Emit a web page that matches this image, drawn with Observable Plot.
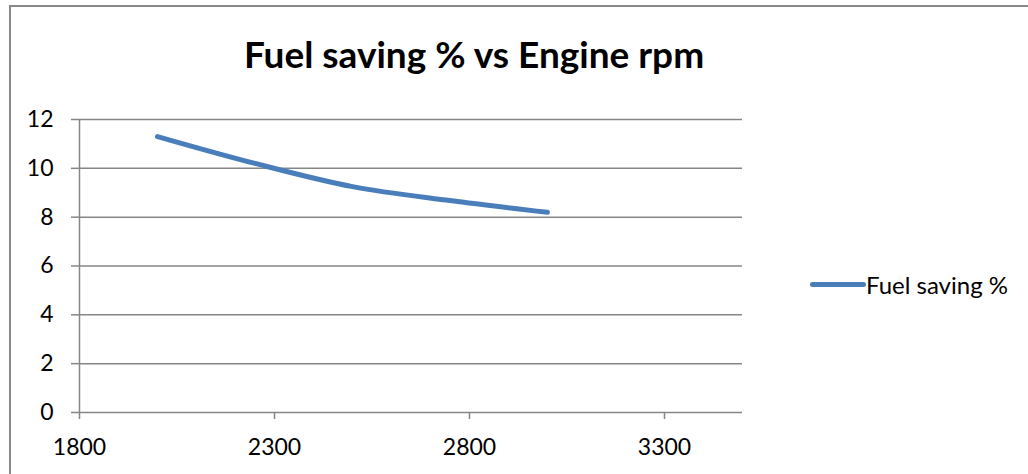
<!DOCTYPE html>
<html>
<head>
<meta charset="utf-8">
<script src="https://cdn.jsdelivr.net/npm/d3@7"></script>
<script src="https://cdn.jsdelivr.net/npm/@observablehq/plot@0.6"></script>
<style>
  html, body { margin: 0; padding: 0; background: #fff; overflow: hidden; }
  #chart { position: relative; width: 1028px; height: 474px; overflow: hidden; background: #fff; }
  #frame { position: absolute; left: 9px; top: 5px; width: 1019px; height: 469px; border-left: 2px solid #898989; border-top: 2px solid #898989; box-sizing: border-box; }
  #title { position: relative; height: 100px; width: 1028px; font-family: Lato, sans-serif; font-weight: bold; font-size: 37px; color: #000; }
  #title span { position: absolute; left: 474px; top: 35px; transform: translateX(-50%); white-space: nowrap; line-height: 1; }
  #plot { position: relative; height: 374px; }
  #plot svg { display: block; }
  #legend { position: absolute; left: 810px; top: 270px; display: flex; align-items: center; font-family: Lato, sans-serif; font-size: 24px; color: #000; white-space: nowrap; }
  #legend .swatch { width: 56px; height: 5px; background: #4a7ebb; border-radius: 3px; }
</style>
</head>
<body>
<div id="chart">
  <div id="frame"></div>
  <div id="title"><span>Fuel saving % vs Engine rpm</span></div>
  <div id="plot"></div>
  <div id="legend"><div class="swatch"></div><span>Fuel saving %</span></div>
</div>
<script>
// Data
const seriesName = "Fuel saving %";
const rpm = [2000, 2250, 2500, 2750, 3000];
const fuelSaving = [11.3, 10.2, 9.25, 8.68, 8.2];
const xTicks = [1800, 2300, 2800, 3300];
const yTicks = [0, 2, 4, 6, 8, 10, 12];

const data = rpm.map((r, i) => ({rpm: r, saving: fuelSaving[i]}));
const gridColor = "#868686";

const chart = Plot.plot({
  width: 1028,
  height: 374,
  marginLeft: 79,
  marginRight: 286,
  marginTop: 19,
  marginBottom: 62,
  style: {fontFamily: "Lato, sans-serif", fontSize: "23px", color: "#000", background: "transparent"},
  x: {domain: [1800, 3500], label: null},
  y: {domain: [0, 12], label: null},
  marks: [
    Plot.ruleY(yTicks, {stroke: gridColor, strokeWidth: 1.5}),
    Plot.ruleX([1800], {stroke: gridColor, strokeWidth: 1.5}),
    Plot.axisX({ticks: xTicks, tickSize: 7, tickPadding: 19, stroke: gridColor, strokeWidth: 1.5, fill: "#000", tickFormat: d => String(d), label: null}),
    Plot.axisY({ticks: yTicks, tickSize: 8, tickPadding: 18, stroke: gridColor, strokeWidth: 1.5, fill: "#000", label: null}),
    Plot.line(data, {x: "rpm", y: "saving", stroke: "#4a7ebb", strokeWidth: 5, curve: "catmull-rom", strokeLinecap: "round"})
  ]
});
document.getElementById("plot").appendChild(chart);
document.getElementById("legend").querySelector("span").textContent = seriesName;
</script>
</body>
</html>
